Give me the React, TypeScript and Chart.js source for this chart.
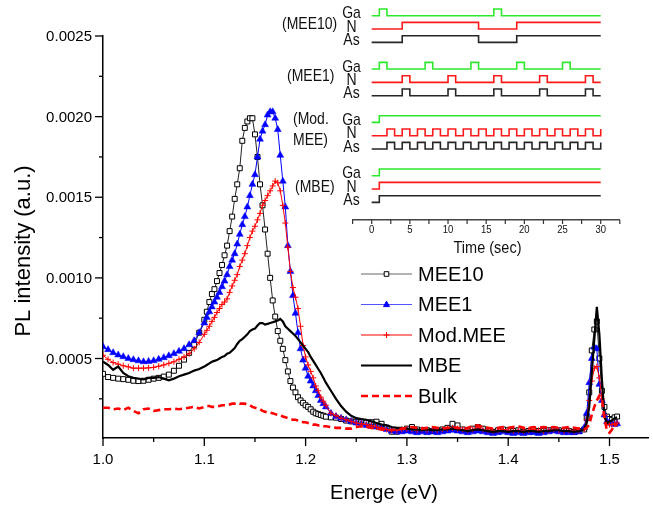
import React, { useEffect, useRef } from 'react';
import { Chart, registerables } from 'chart.js';

Chart.register(...registerables);

const FONT = '"Liberation Sans", Arial, sans-serif';

// ---------- Main spectra (intensity in units of 1e-4 a.u.) ----------
const ENERGY = [
  1.000, 1.005, 1.010, 1.015, 1.020, 1.025, 1.030, 1.035, 1.040, 1.045, 1.050, 1.055, 1.060, 1.065, 1.070, 1.075, 1.080, 1.085, 1.090, 1.095,
  1.1000, 1.1025, 1.1050, 1.1075, 1.1100, 1.1125, 1.1150, 1.1175, 1.1200, 1.1225, 1.1250, 1.1275, 1.1300, 1.1325, 1.1350, 1.1375,
  1.1400, 1.1425, 1.1450, 1.1475, 1.1500, 1.1525, 1.1550, 1.1575, 1.1600, 1.1625, 1.1650, 1.1675, 1.1700, 1.1725, 1.1750, 1.1775,
  1.1800, 1.1825, 1.1850, 1.1875, 1.1900, 1.1925, 1.1950, 1.1975, 1.2000, 1.2025, 1.2050, 1.2075, 1.2100, 1.2125, 1.2150, 1.2175,
  1.220, 1.225, 1.230, 1.235, 1.240, 1.245, 1.250, 1.255, 1.260, 1.265, 1.270, 1.275, 1.280, 1.285, 1.290, 1.295, 1.300, 1.305,
  1.310, 1.315, 1.320, 1.325, 1.330, 1.335, 1.340, 1.345, 1.350, 1.355, 1.360, 1.365, 1.370, 1.375, 1.380, 1.385, 1.390, 1.395,
  1.400, 1.405, 1.410, 1.415, 1.420, 1.425, 1.430, 1.435, 1.440, 1.445, 1.450, 1.455, 1.460, 1.465, 1.470,
  1.4750, 1.4775, 1.4800, 1.4825, 1.4850, 1.4875, 1.4900, 1.4925, 1.4950, 1.4975, 1.5000, 1.5025, 1.5050, 1.5075,
];

const MEE10 = [
  4.05, 3.85, 3.80, 3.75, 3.72, 3.68, 3.62, 3.60, 3.62, 3.68, 3.75, 3.80, 3.88, 4.00, 4.24, 4.55, 4.93, 5.35, 5.85, 6.60,
  7.4, 7.9, 8.5, 9.0, 9.3, 9.8, 10.3, 10.8, 11.4, 12.0, 12.9, 13.8, 14.9, 15.8, 16.8, 18.5, 19.3, 19.7, 19.9, 19.9,
  18.9, 17.5, 15.8, 14.5, 13.0, 11.5, 10.0, 8.6, 7.6, 6.7, 6.1, 5.6, 4.9, 4.2, 3.6, 3.2, 2.9, 2.6, 2.4, 2.25,
  2.1, 2.0, 1.85, 1.7, 1.6, 1.55, 1.5, 1.45,
  1.39, 1.35, 1.33, 1.25, 1.15, 1.1, 1.08, 1.05, 1.02, 1.05, 1.08, 0.95, 0.71, 0.46, 0.46, 0.55, 0.65, 0.75,
  0.6, 0.55, 0.55, 0.5, 0.55, 0.6, 0.7, 0.95, 0.85, 0.6, 0.55, 0.65, 0.75, 0.65, 0.5, 0.45, 0.55, 0.6,
  0.55, 0.5, 0.55, 0.45, 0.5, 0.55, 0.5, 0.5, 0.55, 0.6, 0.55, 0.5, 0.5, 0.45, 0.5,
  0.6, 1.3, 2.9, 5.5, 6.8, 7.3, 5.0, 3.0, 2.0, 1.4, 1.25, 1.2, 1.35, 1.4,
];

const MEE1 = [
  5.73, 5.55, 5.36, 5.22, 5.11, 5.00, 4.93, 4.86, 4.80, 4.82, 4.86, 4.95, 5.05, 5.17, 5.30, 5.45, 5.61, 5.85, 6.10, 6.60,
  7.2, 7.55, 7.9, 8.2, 8.5, 8.8, 9.1, 9.45, 9.8, 10.2, 10.7, 11.1, 11.5, 12.1, 12.7, 13.3, 13.8, 14.4, 15.1, 15.8,
  16.4, 17.5, 18.6, 19.1, 19.5, 20.1, 20.3, 20.3, 19.9, 19.2, 17.6, 16.0, 14.4, 12.0, 10.4, 8.9, 7.8, 6.6, 5.6, 4.9,
  4.4, 3.9, 3.6, 3.3, 3.0, 2.7, 2.4, 2.2,
  2.0, 1.6, 1.4, 1.3, 1.2, 1.1, 1.0, 0.95, 0.85, 0.8, 0.75, 0.7, 0.6, 0.5, 0.45, 0.45, 0.5, 0.45,
  0.4, 0.45, 0.4, 0.45, 0.4, 0.45, 0.5, 0.55, 0.5, 0.45, 0.4, 0.45, 0.5, 0.45, 0.4, 0.35, 0.4, 0.45,
  0.4, 0.35, 0.4, 0.35, 0.4, 0.4, 0.35, 0.4, 0.45, 0.5, 0.45, 0.4, 0.4, 0.4, 0.45,
  0.7, 1.6, 3.5, 5.0, 5.7, 5.6, 3.4, 2.4, 1.5, 1.1, 1.0, 0.95, 0.9, 0.95,
];

const MOD_MEE = [
  5.20, 4.95, 4.75, 4.65, 4.55, 4.48, 4.40, 4.40, 4.40, 4.42, 4.45, 4.52, 4.60, 4.70, 4.80, 4.95, 5.10, 5.30, 5.60, 6.00,
  6.5, 6.75, 7.0, 7.3, 7.55, 7.85, 8.1, 8.35, 8.5, 8.7, 9.1, 9.5, 9.85, 10.2, 10.7, 11.1, 11.5, 12.0, 12.5, 12.9,
  13.2, 13.6, 14.0, 14.5, 14.8, 15.1, 15.4, 15.7, 16.0, 15.9, 15.4, 14.5, 13.4, 11.9, 10.4, 9.4, 8.8, 8.1, 7.0, 5.8,
  5.1, 4.6, 4.2, 3.8, 3.3, 3.0, 2.6, 2.35,
  2.1, 1.6, 1.45, 1.3, 1.2, 1.1, 1.0, 0.95, 0.9, 0.85, 0.75, 0.7, 0.6, 0.55, 0.55, 0.6, 0.65, 0.6,
  0.55, 0.6, 0.55, 0.6, 0.55, 0.6, 0.65, 0.7, 0.65, 0.6, 0.55, 0.6, 0.7, 0.6, 0.55, 0.5, 0.55, 0.6,
  0.55, 0.5, 0.55, 0.5, 0.55, 0.6, 0.55, 0.5, 0.55, 0.6, 0.55, 0.5, 0.55, 0.5, 0.55,
  0.6, 1.2, 2.4, 3.6, 4.4, 4.5, 3.8, 2.5, 1.5, 1.0, 0.9, 0.9, 0.95, 1.0,
];

const MBE = [
  4.80, 4.60, 4.30, 4.50, 4.10, 3.90, 3.80, 3.75, 3.70, 3.80, 3.80, 3.85, 3.75, 3.65, 3.75, 3.90, 4.00, 4.10, 4.25, 4.35,
  4.5, 4.6, 4.7, 4.8, 4.85, 4.9, 5.0, 5.1, 5.15, 5.3, 5.35, 5.5, 5.65, 5.9, 6.1, 6.2, 6.35, 6.5, 6.7, 6.8,
  6.85, 7.05, 7.2, 7.2, 7.1, 7.15, 7.2, 7.25, 7.3, 7.35, 7.45, 7.3, 7.0, 6.85, 6.7, 6.55, 6.4, 6.2, 6.0, 5.8,
  5.6, 5.4, 5.1, 4.85, 4.6, 4.35, 4.1, 3.8,
  3.5, 3.0, 2.5, 2.05, 1.7, 1.45, 1.3, 1.25, 1.2, 1.1, 1.0, 0.9, 0.85, 0.75, 0.7, 0.7, 0.65, 0.6,
  0.6, 0.55, 0.6, 0.55, 0.55, 0.6, 0.6, 0.65, 0.6, 0.55, 0.5, 0.55, 0.6, 0.55, 0.5, 0.45, 0.5, 0.5,
  0.45, 0.5, 0.5, 0.45, 0.5, 0.5, 0.45, 0.5, 0.5, 0.55, 0.55, 0.5, 0.5, 0.45, 0.5,
  0.6, 1.0, 2.0, 4.1, 6.2, 8.2, 6.5, 3.7, 1.4, 1.0, 1.1, 1.15, 1.3, 1.35,
];

const BULK = [
  1.95, 1.95, 1.85, 1.90, 1.80, 1.95, 1.75, 1.60, 1.85, 1.90, 1.75, 1.80, 1.85, 1.85, 1.90, 1.85, 1.90, 1.95, 2.00, 1.90,
  2.0, 2.05, 2.05, 2.0, 2.0, 2.05, 2.05, 2.1, 2.1, 2.1, 2.15, 2.2, 2.2, 2.25, 2.2, 2.2, 2.2, 2.15, 2.1, 2.0,
  1.95, 1.9, 1.85, 1.75, 1.7, 1.65, 1.65, 1.6, 1.55, 1.5, 1.5, 1.4, 1.35, 1.3, 1.25, 1.2, 1.2, 1.15, 1.1, 1.05,
  1.05, 1.0, 0.95, 0.9, 0.9, 0.85, 0.85, 0.8,
  0.8, 0.75, 0.7, 0.7, 0.65, 0.65, 0.75, 0.8, 0.75, 0.7, 0.65, 0.6, 0.55, 0.55, 0.6, 0.65, 0.7, 0.75,
  0.7, 0.65, 0.7, 0.75, 0.7, 0.65, 0.7, 0.75, 0.7, 0.65, 0.7, 0.8, 0.85, 0.75, 0.7, 0.65, 0.7, 0.75,
  0.7, 0.75, 0.8, 0.7, 0.7, 0.75, 0.7, 0.75, 0.7, 0.75, 0.7, 0.7, 0.75, 0.7, 0.65,
  0.6, 0.7, 0.9, 1.5, 2.0, 2.4, 2.7, 2.5, 1.3, 0.5, 0.4, 0.6, 0.9, 0.85,
];

const SERIES_NAMES = ['MEE10', 'MEE1', 'Mod.MEE', 'MBE', 'Bulk'];

// axis ticks
const X_MAJOR = [1.0, 1.1, 1.2, 1.3, 1.4, 1.5];
const X_LABELS = ['1.0', '1.1', '1.2', '1.3', '1.4', '1.5'];
const X_MINOR = [1.05, 1.15, 1.25, 1.35, 1.45];
const Y_MAJOR = [5, 10, 15, 20, 25];
const Y_LABELS = ['0.0005', '0.0010', '0.0015', '0.0020', '0.0025'];
const Y_MINOR = [2.5, 7.5, 12.5, 17.5, 22.5];

// ---------- Inset: shutter sequences (time in s, state 0/1) ----------
const MEE10_GA_T = [0, 1, 2, 16, 17, 30];
const MEE10_GA_S = [0, 1, 0, 1, 0, 0];
const MEE10_NAS_T = [0, 4, 14, 19, 30];
const MEE10_NAS_S = [0, 1, 0, 1, 1];
const MEE1_GA_T = [0, 1, 2, 7, 8, 13, 14, 19, 20, 25, 26, 30];
const MEE1_GA_S = [0, 1, 0, 1, 0, 1, 0, 1, 0, 1, 0, 0];
const MEE1_NAS_T = [0, 4, 5, 10, 11, 16, 17, 22, 23, 28, 29, 30];
const MEE1_NAS_S = [0, 1, 0, 1, 0, 1, 0, 1, 0, 1, 0, 0];
const MOD_GA_T = [0, 1, 30];
const MOD_GA_S = [0, 1, 1];
const MOD_NAS_T = [0, 2, 3, 4, 5, 6, 7, 8, 9, 10, 11, 12, 13, 14, 15, 16, 17, 18, 19, 20, 21, 22, 23, 24, 25, 26, 27, 28, 29, 30];
const MOD_NAS_S = [0, 1, 0, 1, 0, 1, 0, 1, 0, 1, 0, 1, 0, 1, 0, 1, 0, 1, 0, 1, 0, 1, 0, 1, 0, 1, 0, 1, 0, 1];
const MBE_T = [0, 1, 30];
const MBE_S = [0, 1, 1];

const T_MAJOR = [0, 5, 10, 15, 20, 25, 30];
const T_MINOR = [-2.5, 2.5, 7.5, 12.5, 17.5, 22.5, 27.5, 32.5];

const GA_COLOR = '#2ee82e';
const N_COLOR = '#ff1a1a';
const AS_COLOR = '#262626';

const SIGNALS = [
  { row: 1, label: 'Ga', color: GA_COLOR, t: MEE10_GA_T, s: MEE10_GA_S },
  { row: 2, label: 'N', color: N_COLOR, t: MEE10_NAS_T, s: MEE10_NAS_S },
  { row: 3, label: 'As', color: AS_COLOR, t: MEE10_NAS_T, s: MEE10_NAS_S },
  { row: 5, label: 'Ga', color: GA_COLOR, t: MEE1_GA_T, s: MEE1_GA_S },
  { row: 6, label: 'N', color: N_COLOR, t: MEE1_NAS_T, s: MEE1_NAS_S },
  { row: 7, label: 'As', color: AS_COLOR, t: MEE1_NAS_T, s: MEE1_NAS_S },
  { row: 9, label: 'Ga', color: GA_COLOR, t: MOD_GA_T, s: MOD_GA_S },
  { row: 10, label: 'N', color: N_COLOR, t: MOD_NAS_T, s: MOD_NAS_S },
  { row: 11, label: 'As', color: AS_COLOR, t: MOD_NAS_T, s: MOD_NAS_S },
  { row: 13, label: 'Ga', color: GA_COLOR, t: MBE_T, s: MBE_S },
  { row: 14, label: 'N', color: N_COLOR, t: MBE_T, s: MBE_S },
  { row: 15, label: 'As', color: AS_COLOR, t: MBE_T, s: MBE_S },
];

const GROUP_LABELS = [
  { text: '(MEE10)', x: 2, y: 25 },
  { text: '(MEE1)', x: 7, y: 77 },
  { text: '(Mod.', x: 13, y: 120 },
  { text: 'MEE)', x: 13, y: 141 },
  { text: '(MBE)', x: 15, y: 188 },
];

function pts(ys: number[]) {
  return ENERGY.map((e, i) => ({ x: e, y: ys[i] }));
}

function line(ctx: CanvasRenderingContext2D, x1: number, y1: number, x2: number, y2: number) {
  ctx.beginPath();
  ctx.moveTo(x1, y1);
  ctx.lineTo(x2, y2);
  ctx.stroke();
}

function stretchedText(ctx: CanvasRenderingContext2D, text: string, x: number, y: number, size: number, align: CanvasTextAlign, sy = 1.2) {
  ctx.save();
  ctx.translate(x, y);
  ctx.scale(1, sy);
  ctx.font = `${size}px ${FONT}`;
  ctx.textAlign = align;
  ctx.textBaseline = 'middle';
  ctx.fillStyle = '#111';
  ctx.fillText(text, 0, 0);
  ctx.restore();
}

function drawMarker(ctx: CanvasRenderingContext2D, style: string, x: number, y: number, r: number, fill: string, stroke: string) {
  ctx.save();
  ctx.setLineDash([]);
  ctx.lineWidth = 1;
  ctx.strokeStyle = stroke;
  ctx.fillStyle = fill;
  ctx.beginPath();
  if (style === 'rect') {
    ctx.rect(x - r, y - r, 2 * r, 2 * r);
    ctx.fill();
    ctx.stroke();
  } else if (style === 'triangle') {
    ctx.moveTo(x, y - r * 1.1);
    ctx.lineTo(x + r, y + r * 0.7);
    ctx.lineTo(x - r, y + r * 0.7);
    ctx.closePath();
    ctx.fill();
    ctx.stroke();
  } else if (style === 'cross') {
    ctx.moveTo(x - r, y);
    ctx.lineTo(x + r, y);
    ctx.moveTo(x, y - r);
    ctx.lineTo(x, y + r);
    ctx.stroke();
  }
  ctx.restore();
}

const mainDecor = {
  id: 'mainDecor',
  afterDraw(chart: any) {
    const { ctx, chartArea, scales } = chart;
    const xs = scales.x;
    const ys = scales.y;
    ctx.save();
    ctx.strokeStyle = '#000';
    ctx.lineWidth = 1.3;
    ctx.setLineDash([]);
    const yb = chartArea.bottom;
    const xl = chartArea.left;
    X_MAJOR.forEach((v) => { const p = xs.getPixelForValue(v); line(ctx, p, yb, p, yb + 8); });
    X_MINOR.forEach((v) => { const p = xs.getPixelForValue(v); line(ctx, p, yb, p, yb + 4); });
    Y_MAJOR.forEach((v) => { const p = ys.getPixelForValue(v); line(ctx, xl - 8, p, xl, p); });
    Y_MINOR.forEach((v) => { const p = ys.getPixelForValue(v); line(ctx, xl - 4, p, xl, p); });

    ctx.fillStyle = '#000';
    ctx.font = `15px ${FONT}`;
    ctx.textBaseline = 'middle';
    ctx.textAlign = 'center';
    X_MAJOR.forEach((v, i) => { ctx.fillText(X_LABELS[i], xs.getPixelForValue(v), yb + 22); });
    ctx.textAlign = 'right';
    Y_MAJOR.forEach((v, i) => { ctx.fillText(Y_LABELS[i], xl - 11, ys.getPixelForValue(v) + 1); });

    // axis titles
    ctx.font = `20px ${FONT}`;
    ctx.textAlign = 'center';
    ctx.fillText('Energe (eV)', 384, 493);
    ctx.save();
    ctx.translate(24, 251);
    ctx.rotate(-Math.PI / 2);
    ctx.font = `22px ${FONT}`;
    ctx.fillText('PL intensity (a.u.)', 0, 0);
    ctx.restore();

    // legend
    const dsets = chart.data.datasets;
    dsets.forEach((ds: any, i: number) => {
      const cy = 274 + i * 30.5;
      ctx.save();
      ctx.strokeStyle = ds.legendLine || ds.borderColor;
      ctx.lineWidth = ds.borderWidth;
      ctx.setLineDash(ds.borderDash || []);
      line(ctx, 361, cy, 412, cy);
      ctx.restore();
      if (ds.pointRadius > 0) {
        drawMarker(ctx, ds.pointStyle, 386.5, cy, ds.pointStyle === 'rect' ? 2.3 : 3, ds.pointBackgroundColor || ds.borderColor, ds.pointBorderColor || ds.borderColor);
      }
      ctx.fillStyle = '#000';
      ctx.font = `20px ${FONT}`;
      ctx.textAlign = 'left';
      ctx.textBaseline = 'middle';
      ctx.fillText(ds.label, 418, cy + 1);
    });
    ctx.restore();
  },
};

const insetDecor = {
  id: 'insetDecor',
  afterDraw(chart: any) {
    const { ctx, chartArea, scales } = chart;
    const xs = scales.x;
    const ys = scales.y;
    ctx.save();
    ctx.strokeStyle = '#333';
    ctx.lineWidth = 1.2;
    const yb = chartArea.bottom;
    T_MAJOR.forEach((v) => { const p = xs.getPixelForValue(v); line(ctx, p, yb, p, yb + 4); });
    T_MINOR.forEach((v) => { const p = xs.getPixelForValue(v); line(ctx, p, yb, p, yb + 4); });
    T_MAJOR.forEach((v) => stretchedText(ctx, String(v), xs.getPixelForValue(v), 230, 9.5, 'center'));
    stretchedText(ctx, 'Time (sec)', 207.5, 248, 14.5, 'center', 1.15);
    SIGNALS.forEach((sg) => stretchedText(ctx, sg.label, 71.5, ys.getPixelForValue(sg.row) - 2, 14, 'center'));
    GROUP_LABELS.forEach((g) => stretchedText(ctx, g.text, g.x, g.y, 14, 'left', 1.15));
    ctx.restore();
  },
};

export default function App() {
  const mainRef = useRef<HTMLCanvasElement>(null);
  const insetRef = useRef<HTMLCanvasElement>(null);

  useEffect(() => {
    const main = new Chart(mainRef.current as HTMLCanvasElement, {
      type: 'line',
      data: {
        datasets: [
          {
            label: SERIES_NAMES[0], data: pts(MEE10), borderColor: '#222', legendLine: '#666', borderWidth: 1,
            pointStyle: 'rect', pointRadius: 3.5, pointBackgroundColor: '#fff', pointBorderColor: '#000', pointBorderWidth: 1, order: 5,
          },
          {
            label: SERIES_NAMES[1], data: pts(MEE1), borderColor: '#0000ff', legendLine: '#5555ff', borderWidth: 1,
            pointStyle: 'triangle', pointRadius: 4, pointBackgroundColor: '#0000ff', pointBorderColor: '#0000ff', pointBorderWidth: 0.5, order: 4,
          },
          {
            label: SERIES_NAMES[2], data: pts(MOD_MEE), borderColor: '#ff0000', borderWidth: 1,
            pointStyle: 'cross', pointRadius: 3, pointBorderColor: '#ff0000', pointBorderWidth: 1, order: 3,
          },
          {
            label: SERIES_NAMES[3], data: pts(MBE), borderColor: '#000', borderWidth: 2.2, pointRadius: 0, order: 2,
          },
          {
            label: SERIES_NAMES[4], data: pts(BULK), borderColor: '#ff0000', borderWidth: 2.6, borderDash: [7, 4], pointRadius: 0, order: 1,
          },
        ] as any,
      },
      options: {
        responsive: false,
        animation: false,
        devicePixelRatio: 1,
        layout: { padding: { left: 0, right: 1, top: 36, bottom: 0 } },
        plugins: { legend: { display: false }, tooltip: { enabled: false } },
        elements: { line: { tension: 0 } },
        scales: {
          x: {
            type: 'linear', min: 1.0, max: 1.538,
            ticks: { display: false }, grid: { display: false },
            border: { display: true, color: '#000', width: 1.5 },
            afterFit: (s: any) => { s.height = 70; },
          },
          y: {
            type: 'linear', min: 0.07, max: 25,
            ticks: { display: false }, grid: { display: false },
            border: { display: true, color: '#000', width: 1.5 },
            afterFit: (s: any) => { s.width = 103; },
          },
        },
      } as any,
      plugins: [mainDecor],
    });

    const inset = new Chart(insetRef.current as HTMLCanvasElement, {
      type: 'line',
      data: {
        datasets: SIGNALS.map((sg) => ({
          label: sg.label,
          data: sg.t.map((tt, i) => ({ x: tt, y: sg.row - 0.5 * sg.s[i] })),
          borderColor: sg.color,
          borderWidth: 1.6,
          stepped: true,
          pointRadius: 0,
        })) as any,
      },
      options: {
        responsive: false,
        animation: false,
        devicePixelRatio: 1,
        layout: { padding: { left: 72.6, right: 33.2, top: 2.4, bottom: 0 } },
        plugins: { legend: { display: false }, tooltip: { enabled: false } },
        scales: {
          x: {
            type: 'linear', min: -2.5, max: 32.5,
            ticks: { display: false }, grid: { display: false },
            border: { display: true, color: '#444', width: 1.4 },
            afterFit: (s: any) => { s.height = 42; },
          },
          y: { type: 'linear', display: false, reverse: true, min: 0, max: 16.32 },
        },
      } as any,
      plugins: [insetDecor],
    });

    return () => {
      main.destroy();
      inset.destroy();
    };
  }, []);

  return (
    <div style={{ position: 'fixed', left: 0, top: 0, width: 653, height: 508, background: '#fff' }}>
      <canvas ref={mainRef} width={653} height={508} style={{ position: 'absolute', left: 0, top: 0 }} />
      <canvas ref={insetRef} width={373} height={262} style={{ position: 'absolute', left: 280, top: 0 }} />
    </div>
  );
}
